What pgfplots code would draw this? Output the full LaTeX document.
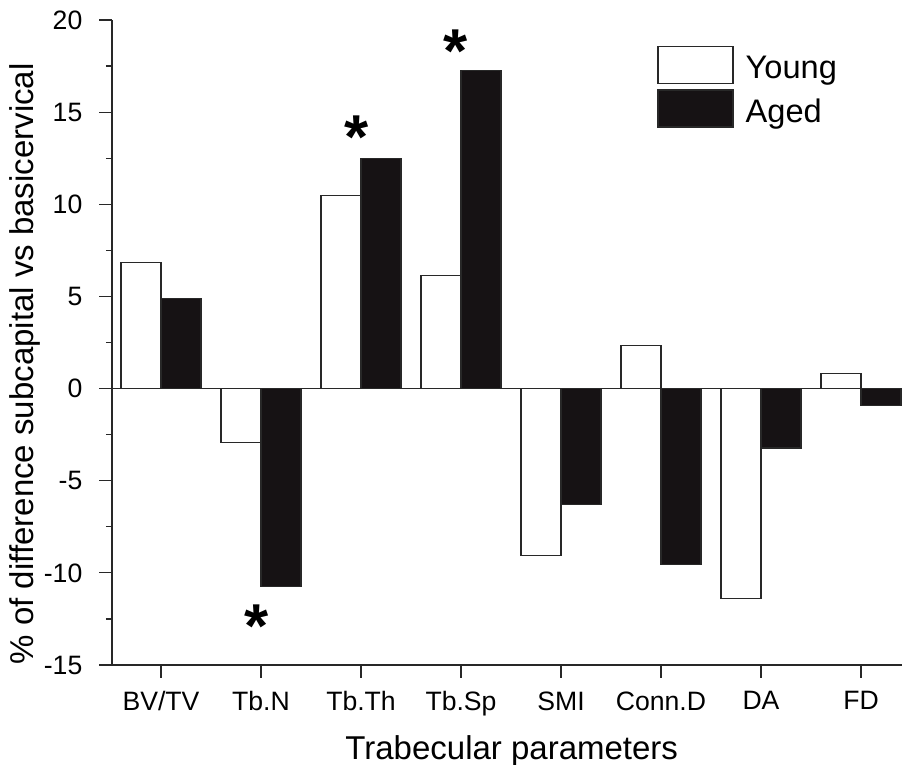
\documentclass[border=0pt]{standalone}
\usepackage{fontspec}
\setmainfont{Liberation Sans}
\usepackage{pgfplots}
\pgfplotsset{compat=1.18}
\usepackage{pgfplotstable}

\definecolor{agedfill}{RGB}{22,18,20}
\definecolor{edge}{RGB}{40,40,40}

% percent difference subcapital vs basicervical
\pgfplotstableread{
x young aged
0 6.86 4.87
1 -2.92 -10.76
2 10.49 12.48
3 6.14 17.28
4 -9.04 -6.27
5 2.34 -9.53
6 -11.39 -3.22
7 0.80 -0.91
}\diffdata

\begin{document}
\begin{tikzpicture}
\useasboundingbox (-56pt,-50pt) rectangle (395pt,332.5pt);
\begin{axis}[
    scale only axis,
    width=395pt, height=322.5pt,
    xmin=-0.49, xmax=7.41,
    ymin=-15, ymax=20,
    axis x line*=bottom, axis y line*=left,
    axis line style={line width=0.6pt, edge},
    ybar, bar width=0.4,
    xtick={0,...,7},
    xticklabels={BV/TV,Tb.N,Tb.Th,Tb.Sp,SMI,Conn.D,DA,FD},
    ytick={-15,-10,...,20},
    minor ytick={-12.5,-7.5,...,17.5},
    tick align=outside,
    major tick length=6.3pt, minor tick length=3pt,
    tick style={line width=0.6pt, edge},
    /pgf/number format/assume math mode=true,
    tick label style={font=\fontsize{13.3}{16}\selectfont},
    yticklabel style={xshift=-5pt},
    xticklabel style={yshift=-3.5pt},
    xlabel={Trabecular parameters},
    ylabel={\% of difference subcapital vs basicervical},
    label style={font=\fontsize{16.5}{19}\selectfont},
    xlabel style={at={(axis description cs:0.506,-0.147)}, anchor=base},
    ylabel style={at={(axis description cs:-0.110,0.467)}, anchor=center},
    legend style={at={(rel axis cs:0.690,0.960)}, anchor=north west,
        draw=none, fill=white, inner sep=0pt, row sep=2pt, column sep=4pt,
        font=\fontsize{16.3}{19}\selectfont},
    legend cell align=left,
    clip=false,
]
\addplot[fill=white, draw=edge, line width=0.6pt, bar shift=-0.2,
    legend image code/.code={\draw[fill=white, draw=edge, line width=0.6pt] (0pt,-7.55pt) rectangle (37.5pt,10.95pt);}]
    table[x=x, y=young] {\diffdata};
\addlegendentry{Young}
\addplot[fill=agedfill, draw=edge, line width=0.6pt, bar shift=0.2,
    legend image code/.code={\draw[fill=agedfill, draw=edge, line width=0.6pt] (0pt,-7.55pt) rectangle (37.5pt,10.95pt);}]
    table[x=x, y=aged] {\diffdata};
\addlegendentry{Aged}

\draw[line width=0.6pt, edge] (axis cs:-0.49,0) -- (axis cs:7.41,0);

% significance marks
\node[font=\fontsize{31}{31}\selectfont\bfseries, anchor=north, inner sep=0pt] at (axis cs:0.96,-11.7) {*};
\node[font=\fontsize{31}{31}\selectfont\bfseries, anchor=north, inner sep=0pt] at (axis cs:1.96,14.8) {*};
\node[font=\fontsize{31}{31}\selectfont\bfseries, anchor=north, inner sep=0pt] at (axis cs:2.95,19.5) {*};
\end{axis}
\end{tikzpicture}
\end{document}
